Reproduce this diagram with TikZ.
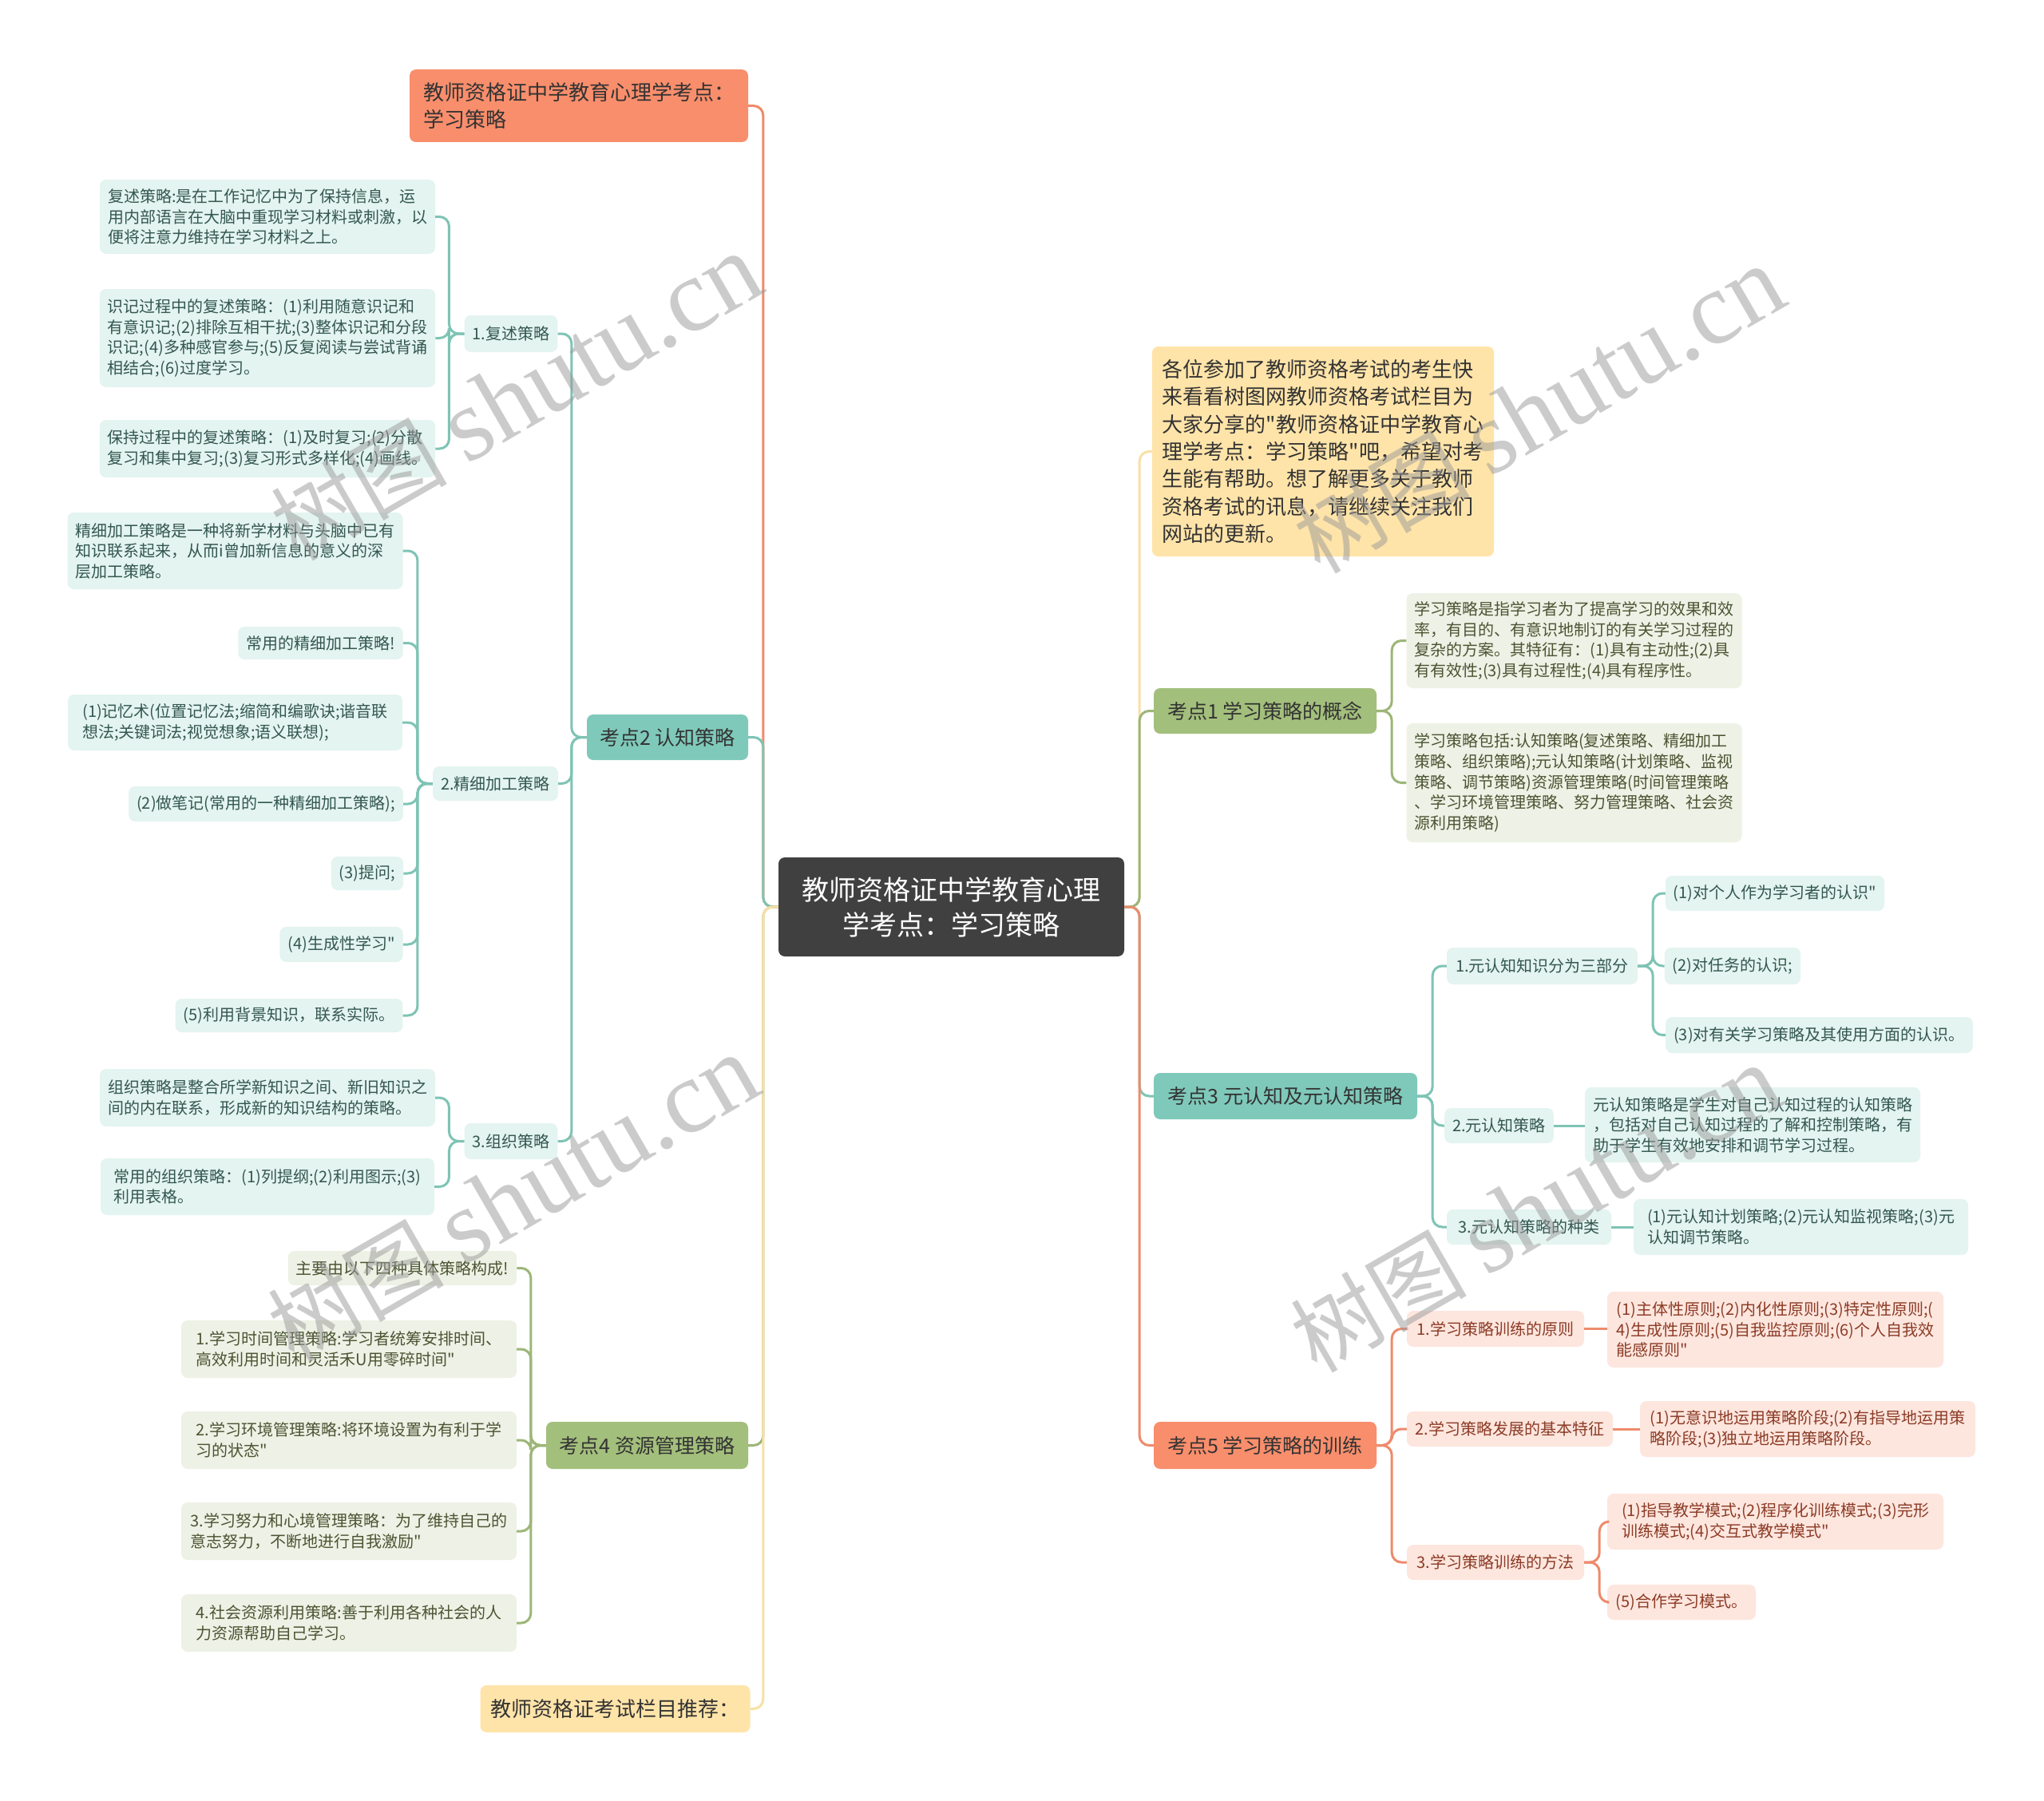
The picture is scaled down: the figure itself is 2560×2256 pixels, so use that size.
\documentclass[tikz,border=0pt]{standalone}
\usepackage{fontspec}
\setmainfont{Noto Sans CJK SC}[Ligatures=TeXOff]
\newfontfamily\wmserif{Liberation Serif}
\definecolor{orMain}{HTML}{F98E6C}
\definecolor{orLine}{HTML}{EE8B6C}
\definecolor{orLight}{HTML}{FDE6DE}
\definecolor{orText}{HTML}{8C3B26}
\definecolor{tlMain}{HTML}{7FC9BA}
\definecolor{tlLine}{HTML}{7EC4B5}
\definecolor{tlLight}{HTML}{E4F4F0}
\definecolor{tlText}{HTML}{33574F}
\definecolor{grMain}{HTML}{A3BF7C}
\definecolor{grLine}{HTML}{9CB678}
\definecolor{grLight}{HTML}{EEF1E5}
\definecolor{grText}{HTML}{4A5533}
\definecolor{yeMain}{HTML}{FFE4A9}
\definecolor{yeLine}{HTML}{F8E0A6}
\definecolor{rootFill}{HTML}{404040}
\definecolor{mainText}{HTML}{333333}
\tikzset{
  box/.style={rounded corners=8pt, inner xsep=10pt, inner ysep=3pt, align=left,
    font=\fontsize{20}{25.6}\selectfont},
  tl/.style={box, fill=tlLight, text=tlText},
  gl/.style={box, fill=grLight, text=grText},
  ol/.style={box, fill=orLight, text=orText},
  mbox/.style={rounded corners=8pt, inner xsep=13pt, inner ysep=3pt, align=left,
    font=\fontsize{25}{30}\selectfont, text=mainText},
  bigbox/.style={rounded corners=8pt, inner xsep=13pt, inner ysep=3pt, align=left,
    font=\fontsize{26}{34.3}\selectfont, text=mainText},
  rootbox/.style={rounded corners=8pt, fill=rootFill, text=white, align=center,
    font=\fontsize{34}{44}\selectfont},
  conn/.style={line width=3pt, rounded corners=12pt},
  wm/.style={rotate=30, text=black!40, text opacity=0.5}
}
\newcommand{\mmnode}[7]{%
  \pgfmathsetmacro{\mmw}{#4-#2}\pgfmathsetmacro{\mmh}{#5-#3}%
  \pgfmathsetmacro{\mmx}{(#2+#4)/2}\pgfmathsetmacro{\mmy}{(#3+#5)/2}%
  \node[#6, minimum width=\mmw pt, minimum height=\mmh pt] (#1) at (\mmx,\mmy) {#7};}
\newcommand{\lconn}[3]{\draw[conn,#1] (#2.west) -- ++(-19,0) |- (#3.east);}
\newcommand{\rconn}[3]{\draw[conn,#1] (#2.east) -- ++(19,0) |- (#3.west);}
\newcommand{\sconn}[3]{\draw[conn,#1] (#2.east) -- (#3.west |- #2.east);}
\begin{document}
\begin{tikzpicture}[x=1pt,y=-1pt]
\useasboundingbox[fill=white] (0,0) rectangle (2560,2256);

% root
\mmnode{root}{975}{1074}{1408}{1198}{rootbox}{教师资格证中学教育心理\\学考点：学习策略}

% left level 1
\mmnode{title}{513}{87}{937}{178}{bigbox, fill=orMain}{教师资格证中学教育心理学考点：\\学习策略}
\mmnode{k2}{735}{895}{937}{952}{mbox, fill=tlMain}{考点2 认知策略}
\mmnode{k4}{684}{1781}{937}{1840}{mbox, fill=grMain}{考点4 资源管理策略}
\mmnode{rec}{604}{2111}{937}{2170}{bigbox, fill=yeMain}{教师资格证考试栏目推荐：}

% right level 1
\mmnode{intro}{1445}{434}{1869}{697}{bigbox, fill=yeMain}{各位参加了教师资格考试的考生快\\来看看树图网教师资格考试栏目为\\大家分享的"教师资格证中学教育心\\理学考点：学习策略"吧，希望对考\\生能有帮助。想了解更多关于教师\\资格考试的讯息，请继续关注我们\\网站的更新。}
\mmnode{k1}{1445}{862}{1724}{919}{mbox, fill=grMain}{考点1 学习策略的概念}
\mmnode{k3}{1445}{1344}{1775}{1402}{mbox, fill=tlMain}{考点3 元认知及元认知策略}
\mmnode{k5}{1445}{1781}{1724}{1840}{mbox, fill=orMain}{考点5 学习策略的训练}

% 考点2 children
\mmnode{r1}{583}{395}{697}{441}{tl}{1.复述策略}
\mmnode{r2}{544}{960}{697}{1003}{tl}{2.精细加工策略}
\mmnode{r3}{583}{1407}{697}{1452}{tl}{3.组织策略}

\mmnode{a1}{126}{225}{544}{318}{tl}{复述策略:是在工作记忆中为了保持信息，运\\用内部语言在大脑中重现学习材料或刺激，以\\便将注意力维持在学习材料之上。}
\mmnode{a2}{126}{362}{544}{485}{tl}{识记过程中的复述策略：(1)利用随意识记和\\有意识记;(2)排除互相干扰;(3)整体识记和分段\\识记;(4)多种感官参与;(5)反复阅读与尝试背诵\\相结合;(6)过度学习。}
\mmnode{a3}{126}{526}{544}{598}{tl}{保持过程中的复述策略：(1)及时复习;(2)分散\\复习和集中复习;(3)复习形式多样化;(4)画线。}

\mmnode{b1}{85}{642}{504}{738}{tl}{精细加工策略是一种将新学材料与头脑中已有\\知识联系起来，从而i曾加新信息的意义的深\\层加工策略。}
\mmnode{b2}{299}{785}{504}{826}{tl}{常用的精细加工策略!}
\mmnode{b3}{85}{870}{504}{940}{tl}{(1)记忆术(位置记忆法;缩简和编歌诀;谐音联\\想法;关键词法;视觉想象;语义联想);}
\mmnode{b4}{162}{985}{504}{1029}{tl}{(2)做笔记(常用的一种精细加工策略);}
\mmnode{b5}{416}{1073}{504}{1115}{tl}{(3)提问;}
\mmnode{b6}{351}{1161}{504}{1205}{tl}{(4)生成性学习"}
\mmnode{b7}{220}{1251}{504}{1293}{tl}{(5)利用背景知识，联系实际。}

\mmnode{c1}{126}{1339}{544}{1411}{tl}{组织策略是整合所学新知识之间、新旧知识之\\间的内在联系，形成新的知识结构的策略。}
\mmnode{c2}{126}{1451}{544}{1522}{tl}{常用的组织策略：(1)列提纲;(2)利用图示;(3)\\利用表格。}

% 考点4 children
\mmnode{d1}{361}{1567}{647}{1610}{gl}{主要由以下四种具体策略构成!}
\mmnode{d2}{227}{1654}{647}{1726}{gl}{1.学习时间管理策略:学习者统筹安排时间、\\高效利用时间和灵活禾U用零碎时间"}
\mmnode{d3}{227}{1768}{647}{1840}{gl}{2.学习环境管理策略:将环境设置为有利于学\\习的状态"}
\mmnode{d4}{227}{1882}{647}{1954}{gl}{3.学习努力和心境管理策略：为了维持自己的\\意志努力，不断地进行自我激励"}
\mmnode{d5}{227}{1997}{647}{2069}{gl}{4.社会资源利用策略:善于利用各种社会的人\\力资源帮助自己学习。}

% 考点1 children
\mmnode{e1}{1762}{743}{2181}{862}{gl}{学习策略是指学习者为了提高学习的效果和效\\率，有目的、有意识地制订的有关学习过程的\\复杂的方案。其特征有：(1)具有主动性;(2)具\\有有效性;(3)具有过程性;(4)具有程序性。}
\mmnode{e2}{1762}{906}{2181}{1055}{gl}{学习策略包括:认知策略(复述策略、精细加工\\策略、组织策略);元认知策略(计划策略、监视\\策略、调节策略)资源管理策略(时间管理策略\\、学习环境管理策略、努力管理策略、社会资\\源利用策略)}

% 考点3 children
\mmnode{f1}{1812}{1187}{2051}{1233}{tl}{1.元认知知识分为三部分}
\mmnode{f1a}{2087}{1097}{2359}{1141}{tl}{(1)对个人作为学习者的认识"}
\mmnode{f1b}{2087}{1187}{2253}{1233}{tl}{(2)对任务的认识;}
\mmnode{f1c}{2087}{1274}{2470}{1319}{tl}{(3)对有关学习策略及其使用方面的认识。}
\mmnode{f2}{1812}{1388}{1943}{1432}{tl}{2.元认知策略}
\mmnode{f2a}{1985}{1362}{2405}{1456}{tl}{元认知策略是学生对自己认知过程的认知策略\\，包括对自己认知过程的了解和控制策略，有\\助于学生有效地安排和调节学习过程。}
\mmnode{f3}{1812}{1515}{2018}{1559}{tl}{3.元认知策略的种类}
\mmnode{f3a}{2046}{1502}{2465}{1572}{tl}{(1)元认知计划策略;(2)元认知监视策略;(3)元\\认知调节策略。}

% 考点5 children
\mmnode{g1}{1762}{1642}{1984}{1687}{ol}{1.学习策略训练的原则}
\mmnode{g1a}{2013}{1618}{2434}{1713}{ol}{(1)主体性原则;(2)内化性原则;(3)特定性原则;(\\4)生成性原则;(5)自我监控原则;(6)个人自我效\\能感原则"}
\mmnode{g2}{1762}{1768}{2020}{1812}{ol}{2.学习策略发展的基本特征}
\mmnode{g2a}{2054}{1755}{2474}{1825}{ol}{(1)无意识地运用策略阶段;(2)有指导地运用策\\略阶段;(3)独立地运用策略阶段。}
\mmnode{g3}{1762}{1935}{1984}{1979}{ol}{3.学习策略训练的方法}
\mmnode{g3a}{2013}{1871}{2434}{1941}{ol}{(1)指导教学模式;(2)程序化训练模式;(3)完形\\训练模式;(4)交互式教学模式"}
\mmnode{g3b}{2013}{1985}{2199}{2029}{ol}{(5)合作学习模式。}

% connectors: root left
\lconn{orLine}{root}{title}
\lconn{tlLine}{root}{k2}
\lconn{grLine}{root}{k4}
\lconn{yeLine}{root}{rec}
% root right
\rconn{yeLine}{root}{intro}
\rconn{grLine}{root}{k1}
\rconn{tlLine}{root}{k3}
\rconn{orLine}{root}{k5}
% 考点2
\lconn{tlLine}{k2}{r1}
\lconn{tlLine}{k2}{r2}
\lconn{tlLine}{k2}{r3}
\lconn{tlLine}{r1}{a1}
\lconn{tlLine}{r1}{a2}
\lconn{tlLine}{r1}{a3}
\lconn{tlLine}{r2}{b1}
\lconn{tlLine}{r2}{b2}
\lconn{tlLine}{r2}{b3}
\lconn{tlLine}{r2}{b4}
\lconn{tlLine}{r2}{b5}
\lconn{tlLine}{r2}{b6}
\lconn{tlLine}{r2}{b7}
\lconn{tlLine}{r3}{c1}
\lconn{tlLine}{r3}{c2}
% 考点4
\lconn{grLine}{k4}{d1}
\lconn{grLine}{k4}{d2}
\lconn{grLine}{k4}{d3}
\lconn{grLine}{k4}{d4}
\lconn{grLine}{k4}{d5}
% 考点1
\rconn{grLine}{k1}{e1}
\rconn{grLine}{k1}{e2}
% 考点3
\rconn{tlLine}{k3}{f1}
\rconn{tlLine}{k3}{f2}
\rconn{tlLine}{k3}{f3}
\rconn{tlLine}{f1}{f1a}
\rconn{tlLine}{f1}{f1b}
\rconn{tlLine}{f1}{f1c}
\sconn{tlLine}{f2}{f2a}
\sconn{tlLine}{f3}{f3a}
% 考点5
\rconn{orLine}{k5}{g1}
\rconn{orLine}{k5}{g2}
\rconn{orLine}{k5}{g3}
\sconn{orLine}{g1}{g1a}
\sconn{orLine}{g2}{g2a}
\rconn{orLine}{g3}{g3a}
\rconn{orLine}{g3}{g3b}

% watermarks
\node[wm] (wm1) at (647,498) {\fontsize{110}{110}\selectfont 树图 {\wmserif\fontsize{130}{130}\selectfont shutu.cn}};
\node[wm] (wm2) at (643,1502) {\fontsize{110}{110}\selectfont 树图 {\wmserif\fontsize{130}{130}\selectfont shutu.cn}};
\node[wm] (wm3) at (1928,514) {\fontsize{110}{110}\selectfont 树图 {\wmserif\fontsize{130}{130}\selectfont shutu.cn}};
\node[wm] (wm4) at (1924,1515) {\fontsize{110}{110}\selectfont 树图 {\wmserif\fontsize{130}{130}\selectfont shutu.cn}};
\end{tikzpicture}
\end{document}
